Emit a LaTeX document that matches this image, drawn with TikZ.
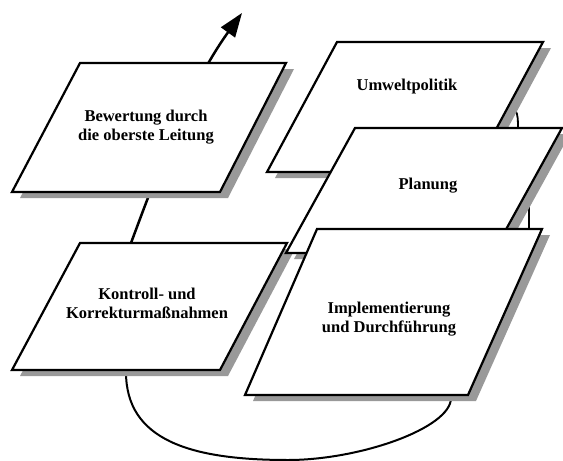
\documentclass[tikz,border=0pt]{standalone}
\usepackage{fontspec}
\setmainfont{Liberation Serif}
\usetikzlibrary{arrows.meta}

\begin{document}
\begin{tikzpicture}[x=1pt,y=-1pt]
\tikzset{plate/.style={draw,line width=2.2pt,fill=white,
    preaction={fill=black!40,transform canvas={xshift=8pt,yshift=-6pt}}},
  caption/.style={font=\bfseries\fontsize{16.5}{19}\selectfont,align=center,inner sep=0pt},
  link/.style={line width=2pt}}
\useasboundingbox (0,0) rectangle (563,461);
% ends of the connectors
\coordinate (up-from) at (131,243);
\coordinate (up-to) at (242,13);
\coordinate (back-from) at (126,372);
\coordinate (back-to) at (451,398);
\coordinate (side-from) at (498,108);
\coordinate (side-to) at (529,240);
% connectors first, the plates cover them
\draw[link,line width=1.8pt] (side-from) .. controls (518,108) .. (518,132) -- (529,200) -- (side-to);
\draw[link] (back-from) .. controls (126,440) and (190,460) .. (288,460)
  .. controls (360,460) and (451,428) .. (back-to);
\draw[link,line width=2.5pt,-{Triangle[length=24pt,width=17pt]}] (up-from)
  .. controls (160,165) and (190,85) .. (up-to);
% plates
\draw[plate] (80,63) -- (286,63) -- (220,192) -- (12,192) -- cycle;
\draw[plate] (80,243) -- (287,243) -- (220,370) -- (12,370) -- cycle;
\draw[plate] (337,42) -- (543,42) -- (473,172) -- (267,172) -- cycle;
\draw[plate] (355,128) -- (562,128) -- (493,253) -- (286,253) -- cycle;
\draw[plate] (317,229) -- (542,229) -- (468,395) -- (245,395) -- cycle;
% texts
\node[caption] (bewertung) at (146,127) {Bewertung durch\\die oberste Leitung};
\node[caption] (kontrolle) at (147,303) {Kontroll- und\\Korrekturmaßnahmen};
\node[caption] (umwelt) at (407,87) {Umweltpolitik};
\node[caption] (planung) at (428,186) {Planung};
\node[caption] (umsetzung) at (389,319) {Implementierung\\und Durchführung};
\end{tikzpicture}
\end{document}
